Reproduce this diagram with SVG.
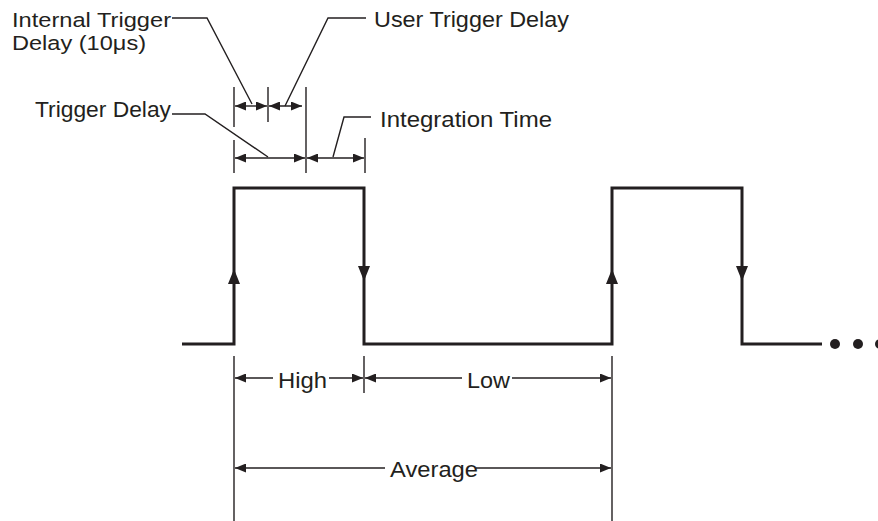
<svg xmlns="http://www.w3.org/2000/svg" width="878" height="521" viewBox="0 0 878 521">
<defs>
<style>
.t{font-family:"Liberation Sans",Arial,sans-serif;font-size:21.5px;fill:#231f20}
.t2{font-family:"Liberation Sans",Arial,sans-serif;font-size:20.5px;fill:#231f20}
.thin{stroke:#231f20;stroke-width:1.4;fill:none}
.thick{stroke:#231f20;stroke-width:3;fill:none}
.dim{stroke:#231f20;stroke-width:1.4;fill:none;marker-end:url(#ah)}
.dim2{stroke:#231f20;stroke-width:1.4;fill:none;marker-start:url(#ah);marker-end:url(#ah)}
.fill{fill:#231f20}
</style>
<marker id="ah" markerUnits="userSpaceOnUse" markerWidth="11" markerHeight="9" viewBox="0 0 11 9" refX="11" refY="4.5" orient="auto-start-reverse">
<path d="M0,0 L11,4.5 L0,9 z" fill="#231f20"/>
</marker>
</defs>
<rect width="878" height="521" fill="#fff"/>

<g id="waveform">
<path class="thick" d="M182,344 H234 V188 H364 V344 H612 V188 H742 V344 H822"/>
<polygon class="fill" points="234,269 228,284 240,284"/>
<polygon class="fill" points="364,281 358,266 370,266"/>
<polygon class="fill" points="612,269 606,284 618,284"/>
<polygon class="fill" points="742,281 736,266 748,266"/>
<circle class="fill" cx="835" cy="344" r="5"/>
<circle class="fill" cx="858" cy="344" r="5"/>
<circle class="fill" cx="880" cy="344" r="5"/>
</g>

<g id="internal-trigger-delay">
<text class="t2" x="12" y="26.5" textLength="159" lengthAdjust="spacingAndGlyphs">Internal Trigger</text>
<text class="t2" x="12" y="49.5" textLength="134" lengthAdjust="spacingAndGlyphs">Delay (10μs)</text>
</g>
<g id="user-trigger-delay">
<text class="t" x="374" y="27" textLength="195" lengthAdjust="spacingAndGlyphs">User Trigger Delay</text>
</g>
<g id="trigger-delay">
<text class="t" x="35" y="117" textLength="136" lengthAdjust="spacingAndGlyphs">Trigger Delay</text>
</g>
<g id="integration-time">
<text class="t" x="380" y="127" textLength="172" lengthAdjust="spacingAndGlyphs">Integration Time</text>
</g>
<g id="high">
<text class="t" x="278" y="388" textLength="49" lengthAdjust="spacingAndGlyphs">High</text>
</g>
<g id="low">
<text class="t" x="467" y="388" textLength="43" lengthAdjust="spacingAndGlyphs">Low</text>
</g>
<g id="average">
<text class="t" x="390" y="477" textLength="88" lengthAdjust="spacingAndGlyphs">Average</text>
</g>

<g id="connectors">
<line class="thin" x1="234" y1="87" x2="234" y2="127"/>
<line class="thin" x1="268" y1="87" x2="268" y2="122"/>
<line class="thin" x1="306" y1="87" x2="306" y2="173"/>
<line class="thin" x1="234" y1="140" x2="234" y2="173"/>
<line class="thin" x1="365" y1="138" x2="365" y2="173"/>
<line class="thin" x1="234" y1="356" x2="234" y2="521"/>
<line class="thin" x1="364" y1="356" x2="364" y2="393"/>
<line class="thin" x1="612" y1="356" x2="612" y2="521"/>
<line class="dim2" x1="235" y1="106" x2="267" y2="106"/>
<line class="dim2" x1="269" y1="106" x2="302" y2="106"/>
<line class="dim2" x1="235" y1="158" x2="305" y2="158"/>
<line class="dim2" x1="307" y1="158" x2="364" y2="158"/>
<line class="dim" x1="273" y1="378" x2="235" y2="378"/>
<line class="dim" x1="329" y1="378" x2="363" y2="378"/>
<line class="dim" x1="462" y1="378" x2="365" y2="378"/>
<line class="dim" x1="512" y1="378" x2="611" y2="378"/>
<line class="dim" x1="385" y1="468" x2="235" y2="468"/>
<line class="dim" x1="476" y1="468" x2="611" y2="468"/>
<polyline class="thin" points="172,18 207,18 252,104"/>
<polyline class="thin" points="285,106 328,18 366,18"/>
<polyline class="thin" points="172,114 205,114 268,157"/>
<polyline class="thin" points="333,157 344,117 371,117"/>
</g>
</svg>
